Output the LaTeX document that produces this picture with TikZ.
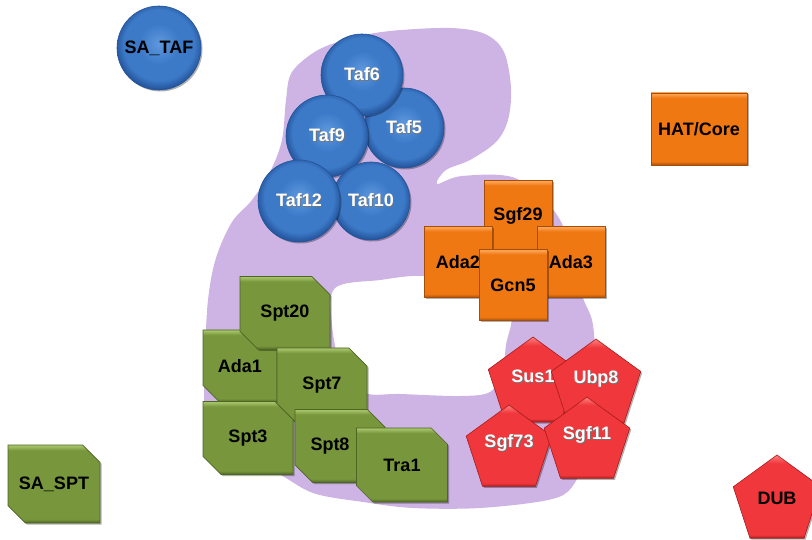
\documentclass[tikz,border=0pt]{standalone}
\usepackage{fontspec}
\setmainfont{Liberation Sans}
\usetikzlibrary{shapes.geometric,shapes.misc,shadows}
\definecolor{purp}{RGB}{205,180,228}
\definecolor{blL}{RGB}{95,152,222}
\definecolor{blB}{RGB}{60,122,200}
\definecolor{blD}{RGB}{36,84,155}
\definecolor{orL}{RGB}{252,165,85}
\definecolor{orB}{RGB}{240,120,18}
\definecolor{orD}{RGB}{165,78,10}
\definecolor{grL}{RGB}{165,195,105}
\definecolor{grB}{RGB}{120,150,60}
\definecolor{grD}{RGB}{78,102,36}
\definecolor{rdL}{RGB}{255,120,120}
\definecolor{rdB}{RGB}{240,55,60}
\definecolor{rdD}{RGB}{165,28,28}
\pgfdeclareradialshading{blsph}{\pgfpoint{0bp}{3bp}}{color(0bp)=(blL); color(12bp)=(blB); color(21bp)=(blB); color(26bp)=(blD); color(50bp)=(blD)}
\pgfdeclareverticalshading{orsh}{100bp}{color(0bp)=(orD); color(25bp)=(orD); color(27.5bp)=(orB); color(71.5bp)=(orB); color(74.5bp)=(orL); color(100bp)=(orL)}
\pgfdeclareverticalshading{grsh}{100bp}{color(0bp)=(grD); color(25bp)=(grD); color(27.5bp)=(grB); color(71.5bp)=(grB); color(74.5bp)=(grL); color(100bp)=(grL)}
\pgfdeclareverticalshading{rdsh}{100bp}{color(0bp)=(rdD); color(25bp)=(rdD); color(27bp)=(rdB); color(70bp)=(rdB); color(74.5bp)=(rdL); color(100bp)=(rdL)}
\newcommand{\wt}[1]{\rlap{\kern0.9pt\raisebox{-0.9pt}{\textcolor{black!55}{#1}}}\textcolor{white}{#1}}
\tikzset{
  txt/.style={font=\fontsize{18}{20}\selectfont\bfseries},
  shd/.style={drop shadow={shadow xshift=1.5pt,shadow yshift=-1.5pt,opacity=0.3,fill=black}},
  ball/.style={circle, minimum size=#1, inner sep=0pt, outer sep=0pt, shade, shading=blsph, draw=blD, line width=0.6pt, shd, txt},
  obox/.style 2 args={rectangle, minimum width=#1, minimum height=#2, inner sep=0pt, outer sep=0pt, shade, shading=orsh, draw=orD, line width=0.6pt, shd, txt},
  gbox/.style 2 args={chamfered rectangle, chamfered rectangle corners={north east,south west}, chamfered rectangle sep=10pt, minimum width=#1, minimum height=#2, inner sep=0pt, outer sep=0pt, shade, shading=grsh, draw=grD, line width=0.6pt, shd, txt},
  pent/.style={regular polygon, regular polygon sides=5, minimum size=#1, inner sep=0pt, outer sep=0pt, shade, shading=rdsh, draw=rdD, line width=0.6pt, shd, txt},
  wlab/.style={label={[txt, yshift=7pt]center:\wt{#1}}},
  blab/.style={label={[txt, yshift=3pt]center:#1}}
}
\begin{document}
\begin{tikzpicture}[x=1pt,y=-1pt]
\fill[white] (0,0) rectangle (812,540);
\useasboundingbox (0,0) rectangle (812,540);
% purple band
\fill[purp, even odd rule]
  plot[smooth cycle, tension=0.55] coordinates {
    (292,72) (318,50) (352,38) (390,31) (450,28) (485,34) (504,52) (511,88)
    (508,120) (496,142) (470,160) (446,170) (437,184) (462,176) (515,178)
    (555,212) (575,258) (582,295) (592,320) (595,350) (596,400) (588,450)
    (572,487) (548,500) (480,508) (413,508) (363,502) (313,493) (275,472)
    (228,455) (206,420) (205,360) (208,300) (216,258) (232,222) (252,200)
    (270,172) (282,140) (286,100)}
  plot[smooth cycle, tension=0.55] coordinates {
    (335,288) (380,280) (425,276) (470,288) (510,310) (506,345) (502,372)
    (490,392) (460,396) (400,394) (365,393) (342,370) (332,325)};
% blue circles
\node[ball=84pt] (satuf) at (159,48) {SA\_TAF};
\node[ball=80pt] (taf5) at (404,128) {\wt{Taf5}};
\node[ball=82pt] (taf6) at (362,75) {\wt{Taf6}};
\node[ball=82pt] (taf9) at (327,136) {\wt{Taf9}};
\node[ball=78pt] (taf10) at (371,201) {\wt{Taf10}};
\node[ball=82pt] (taf12) at (299,201) {\wt{Taf12}};
% orange boxes
\node[obox={96pt}{72pt}] (hat) at (699,129) {HAT/Core};
\node[obox={68pt}{71pt}] (sgf29) at (518,216) {Sgf29};
\node[obox={68pt}{71pt}] (ada2) at (458,262) {Ada2};
\node[obox={68pt}{71pt}] (ada3) at (571,262) {Ada3};
\node[obox={68pt}{71pt}] (gcn5) at (513,285) {Gcn5};
% green boxes
\node[gbox={74pt}{72pt}] (ada1) at (240,366) {Ada1};
\node[gbox={90pt}{73pt}] (spt20) at (285,313) {Spt20};
\node[gbox={90pt}{74pt}] (spt7) at (322,385) {Spt7};
\node[gbox={90pt}{73pt}] (spt3) at (248,438) {Spt3};
\node[gbox={90pt}{73pt}] (spt8) at (340,446) {\hspace*{-20pt}Spt8};
\node[gbox={91pt}{74pt}] (tra1) at (402,465) {Tra1};
\node[gbox={92pt}{78pt}] (saspt) at (54,484) {SA\_SPT};
% red pentagons
\node[pent=94pt, wlab=Sus1] (sus1) at (533,384) {};
\node[pent=94pt, wlab=Ubp8] (ubp8) at (596,386) {};
\node[pent=90pt, wlab=Sgf73] (sgf73) at (509,450) {};
\node[pent=90pt, wlab=Sgf11] (sgf11) at (587,442) {};
\node[pent=92pt, blab=DUB] (dub) at (777,501) {};
\end{tikzpicture}
\end{document}
